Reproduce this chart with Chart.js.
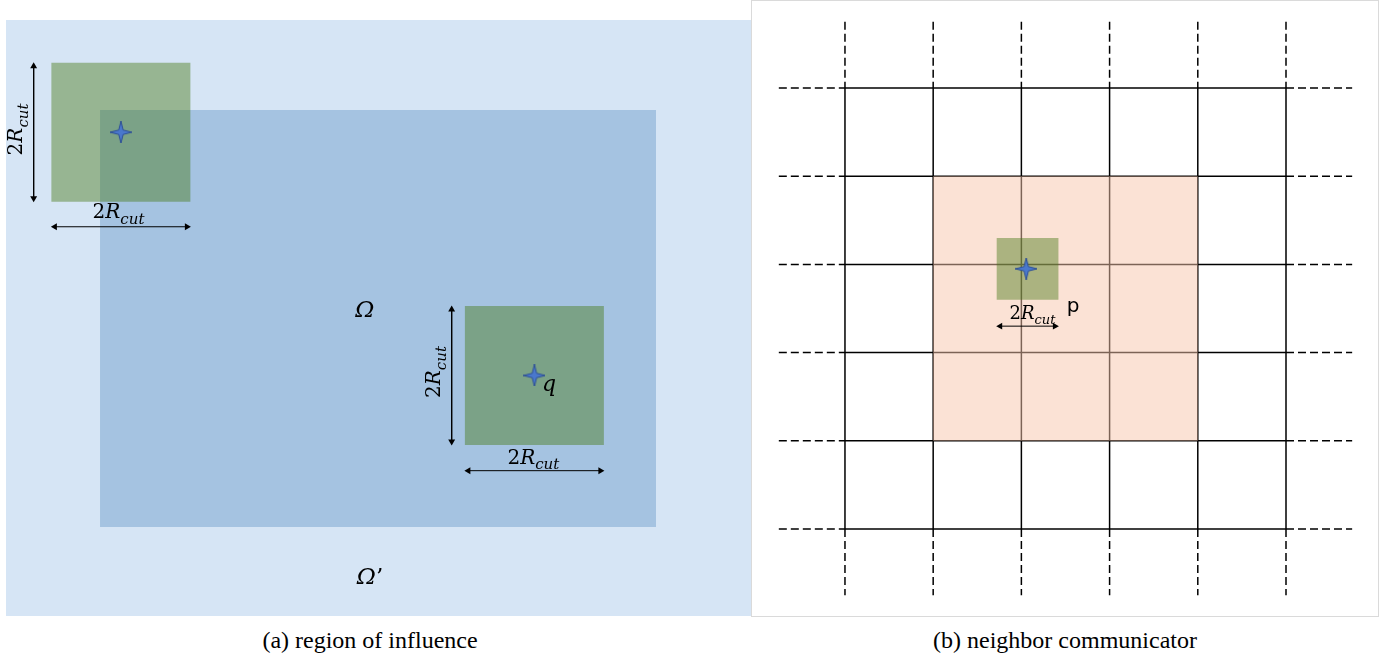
<!DOCTYPE html>
<html>
<head>
<meta charset="utf-8">
<script src="https://cdn.jsdelivr.net/npm/chart.js@4.4.1/dist/chart.umd.min.js"></script>
<style>
  body { margin: 0; background: #fff; width: 1396px; height: 658px; position: relative; overflow: hidden; }
  #left { position: absolute; left: 6px; top: 20px; }
  #rightBox { position: absolute; left: 751px; top: 0; width: 628px; height: 617px; border: 1px solid #dadada; box-sizing: border-box; }
  .caption { position: absolute; top: 628px; font-family: 'Liberation Serif', 'Times New Roman', serif; font-size: 24px; line-height: 24px; color: #000; white-space: nowrap; transform: translateX(-50%); }
</style>
</head>
<body>
<canvas id="left" width="745" height="596"></canvas>
<div id="rightBox"><canvas id="right" width="626" height="615"></canvas></div>
<div class="caption" style="left:370px">(a) region of influence</div>
<div class="caption" style="left:1065px">(b) neighbor communicator</div>
<script>
// (a) units of R_cut, origin at top-left corner of Omega
const outerDomain = [-1.353, -1.295, 9.367, 7.281];   // Omega'
const innerDomain = [0, 0, 8, 6];                      // Omega
const cutoffCenters = [[0.3, 0.32], [6.25, 3.82]];
const cutoffHalf = 1;
const dimArrowsA = [
  [[-0.955, -0.68], [-0.955, 1.32]],
  [[-0.70, 1.68], [1.30, 1.68]],
  [[5.06, 2.82], [5.06, 4.82]],
  [[5.25, 5.19], [7.25, 5.19]]
];
const textsA = [
  { text: '2R_cut', at: [-1.122, 0.28], rotate: -90 },
  { text: '2R_cut', at: [0.266, 1.554] },
  { text: '2R_cut', at: [4.89, 3.77], rotate: -90 },
  { text: '2R_cut', at: [6.235, 5.09] },
  { text: 'Ω', at: [3.81, 2.98], size: 23 },
  { text: 'Ω’', at: [3.885, 6.82], size: 23 },
  { text: 'q', at: [6.46, 4.04], size: 22 }
];

// (b) units of one cell
const cellLines = [0, 1, 2, 3, 4, 5];
const dashExtent = 0.75;
const commBox = [1, 1, 4, 4];
const particleCenter = [2.07, 2.05];
const particleHalf = 0.35;
const dimArrowsB = [
  [[1.72, 2.70], [2.42, 2.70]]
];
const textsB = [
  { text: '2R_cut', at: [2.126, 2.62], size: 18, subSize: 13 },
  { text: 'p', at: [2.585, 2.535], sans: true, size: 20 }
];

const LIGHT_BLUE = '#d6e5f5';
const DARK_BLUE = '#a5c3e1';
const GREEN = 'rgba(71, 120, 20, 0.44)';
const PEACH = 'rgba(247, 197, 171, 0.5)';

function boxPoints(b) {
  return [
    { x: b[0], y: b[1] }, { x: b[2], y: b[1] },
    { x: b[2], y: b[3] }, { x: b[0], y: b[3] }, { x: b[0], y: b[1] }
  ];
}

function areaSet(b, color) {
  return { data: boxPoints(b), showLine: true, fill: 'shape', backgroundColor: color, borderWidth: 0, pointRadius: 0 };
}

function lineSet(p, q, dashed) {
  return {
    data: [{ x: p[0], y: p[1] }, { x: q[0], y: q[1] }],
    showLine: true, fill: false, borderColor: '#000', borderWidth: 1.5,
    borderDash: dashed ? [8, 4] : [], pointRadius: 0
  };
}

function arrowSet(a, inset) {
  const [p, q] = a;
  const horizontal = p[1] === q[1];
  const dx = horizontal ? inset : 0;
  const dy = horizontal ? 0 : inset;
  return {
    data: [{ x: p[0] + dx, y: p[1] + dy }, { x: q[0] - dx, y: q[1] - dy }],
    showLine: true, fill: false, borderColor: '#000', borderWidth: 1,
    pointStyle: 'triangle', pointRadius: 4, pointBorderWidth: 0,
    pointBackgroundColor: '#000',
    pointRotation: horizontal ? [270, 90] : [0, 180]
  };
}

function makeStar(size) {
  const c = document.createElement('canvas');
  c.width = size; c.height = size;
  const g = c.getContext('2d');
  const m = size / 2, w = size * 0.1;
  g.beginPath();
  g.moveTo(m, 0);
  g.lineTo(m + w, m - w);
  g.lineTo(size, m);
  g.lineTo(m + w, m + w);
  g.lineTo(m, size);
  g.lineTo(m - w, m + w);
  g.lineTo(0, m);
  g.lineTo(m - w, m - w);
  g.closePath();
  g.fillStyle = '#4a78cc';
  g.fill();
  g.strokeStyle = '#2d4f96';
  g.lineWidth = 1;
  g.stroke();
  return c;
}

function starSet(centers, img) {
  return {
    data: centers.map(c => ({ x: c[0], y: c[1] })),
    showLine: false, pointStyle: img, pointRadius: 10
  };
}

function drawLabel(ctx, item) {
  const [main, sub] = item.text.split('_');
  const size = item.size || 20;
  const subSize = item.subSize || 15;
  const fam = item.sans ? "'DejaVu Sans', sans-serif" : "'DejaVu Serif', serif";
  const pieces = [];
  for (const ch of main) {
    const upright = item.sans || /[0-9’]/.test(ch);
    pieces.push({ t: ch, font: (upright ? '' : 'italic ') + size + 'px ' + fam, dy: 0 });
  }
  if (sub) pieces.push({ t: sub, font: 'italic ' + subSize + 'px ' + fam, dy: subSize * 0.38 });
  let total = 0;
  pieces.forEach(p => { ctx.font = p.font; p.w = ctx.measureText(p.t).width; total += p.w; });
  let x = -total / 2;
  ctx.fillStyle = '#000';
  ctx.textBaseline = 'alphabetic';
  pieces.forEach(p => { ctx.font = p.font; ctx.fillText(p.t, x, p.dy); x += p.w; });
}

function textPlugin(items) {
  return {
    id: 'labels',
    afterDatasetsDraw(chart) {
      const { ctx, scales } = chart;
      items.forEach(item => {
        ctx.save();
        ctx.translate(scales.x.getPixelForValue(item.at[0]), scales.y.getPixelForValue(item.at[1]));
        if (item.rotate) ctx.rotate(item.rotate * Math.PI / 180);
        drawLabel(ctx, item);
        ctx.restore();
      });
    }
  };
}

function stack(sets) {
  // later entries are drawn on top
  sets.forEach((s, i) => { s.order = sets.length - i; });
  return sets;
}

function baseOptions(xr, yr) {
  return {
    responsive: false,
    animation: false,
    events: [],
    layout: { padding: 0, autoPadding: false },
    plugins: { legend: { display: false }, tooltip: { enabled: false } },
    scales: {
      x: { type: 'linear', display: false, min: xr[0], max: xr[1] },
      y: { type: 'linear', display: false, min: yr[0], max: yr[1], reverse: true }
    }
  };
}

const star = makeStar(22);

// (a) region of influence
const setsA = [
  areaSet(outerDomain, LIGHT_BLUE),
  areaSet(innerDomain, DARK_BLUE)
];
cutoffCenters.forEach(c => {
  setsA.push(areaSet([c[0] - cutoffHalf, c[1] - cutoffHalf, c[0] + cutoffHalf, c[1] + cutoffHalf], GREEN));
});
dimArrowsA.forEach(a => setsA.push(arrowSet(a, 0.05)));
setsA.push(starSet(cutoffCenters, star));

new Chart(document.getElementById('left'), {
  type: 'scatter',
  data: { datasets: stack(setsA) },
  options: baseOptions([outerDomain[0], outerDomain[2]], [outerDomain[1], outerDomain[3]]),
  plugins: [textPlugin(textsA)]
});

// (b) neighbor communicator
const setsB = [];
const first = cellLines[0];
const last = cellLines[cellLines.length - 1];
cellLines.forEach(v => {
  setsB.push(lineSet([first, v], [last, v], false));
  setsB.push(lineSet([first - dashExtent, v], [first, v], true));
  setsB.push(lineSet([last, v], [last + dashExtent, v], true));
  setsB.push(lineSet([v, first], [v, last], false));
  setsB.push(lineSet([v, first - dashExtent], [v, first], true));
  setsB.push(lineSet([v, last], [v, last + dashExtent], true));
});
setsB.push(areaSet(commBox, PEACH));
setsB.push(areaSet([
  particleCenter[0] - particleHalf, particleCenter[1] - particleHalf,
  particleCenter[0] + particleHalf, particleCenter[1] + particleHalf
], GREEN));
dimArrowsB.forEach(a => setsB.push(arrowSet(a, 0.04)));
setsB.push(starSet([[2.055, 2.05]], star));

new Chart(document.getElementById('right'), {
  type: 'scatter',
  data: { datasets: stack(setsB) },
  options: baseOptions([-1.054, 6.043], [-0.986, 5.986]),
  plugins: [textPlugin(textsB)]
});
</script>
</body>
</html>
